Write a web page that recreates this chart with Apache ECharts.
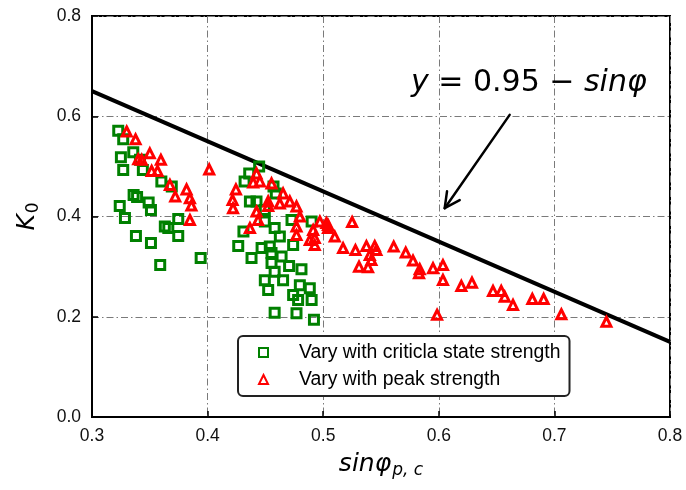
<!DOCTYPE html>
<html>
<head>
<meta charset="utf-8">
<script src="https://cdn.jsdelivr.net/npm/echarts@6/dist/echarts.min.js"></script>
<style>
  html, body { margin: 0; padding: 0; background: #fff; }
  #chart { width: 686px; height: 490px; }
</style>
</head>
<body>
<div id="chart"></div>
<script>
// K0 versus sin(phi) for critical-state and peak strength
const critX = [0.3227, 0.327, 0.325, 0.3357, 0.327, 0.344, 0.3415, 0.360, 0.369, 0.336, 0.339, 0.324,
  0.349, 0.351, 0.3285, 0.3746, 0.363, 0.366, 0.3746, 0.338, 0.351, 0.359, 0.394,
  0.436, 0.4446, 0.432, 0.457, 0.459, 0.4366, 0.4423, 0.4495, 0.4726, 0.490, 0.4495, 0.458,
  0.431, 0.4625, 0.4265, 0.4467, 0.4538, 0.4553, 0.474, 0.438, 0.4553, 0.464, 0.4705, 0.4812,
  0.458, 0.4495, 0.4653, 0.4524, 0.4798, 0.4884, 0.474, 0.4783, 0.490, 0.458, 0.4769, 0.492];
const critY = [0.571, 0.554, 0.518, 0.528, 0.493, 0.493, 0.513, 0.470, 0.460, 0.443, 0.439, 0.421,
  0.428, 0.413, 0.397, 0.395, 0.380, 0.377, 0.361, 0.361, 0.347, 0.303, 0.317,
  0.486, 0.500, 0.470, 0.460, 0.446, 0.430, 0.430, 0.413, 0.393, 0.390, 0.390, 0.377,
  0.370, 0.360, 0.341, 0.337, 0.340, 0.327, 0.343, 0.317, 0.307, 0.320, 0.301, 0.295,
  0.290, 0.273, 0.273, 0.2535, 0.263, 0.257, 0.2435, 0.2335, 0.2335, 0.208, 0.207, 0.194];

const peakX = [0.330, 0.3377, 0.340, 0.343, 0.350, 0.3596, 0.3516, 0.3567, 0.3674, 0.372, 0.3818, 0.3847,
  0.386, 0.3847, 0.4014, 0.4423, 0.4452, 0.4394, 0.4553, 0.4245, 0.4216, 0.422, 0.4653, 0.4524,
  0.4524, 0.4625, 0.4711, 0.4769, 0.4423, 0.4437, 0.4798, 0.4366, 0.4769, 0.4769, 0.4913, 0.4971,
  0.4927, 0.4884, 0.4927, 0.5042, 0.510, 0.5028, 0.5042, 0.525, 0.5172, 0.5279, 0.5374, 0.5446,
  0.546, 0.5403, 0.5417, 0.531, 0.5388, 0.561, 0.5714, 0.5777, 0.5835, 0.5829, 0.595, 0.6036,
  0.6036, 0.5985, 0.6195, 0.6287, 0.6469, 0.654, 0.657, 0.6642, 0.6809, 0.6907, 0.706, 0.745];
const peakY = [0.5695, 0.554, 0.514, 0.513, 0.526, 0.513, 0.491, 0.491, 0.463, 0.440, 0.454, 0.4365,
  0.422, 0.393, 0.494, 0.486, 0.470, 0.468, 0.466, 0.454, 0.433, 0.4165, 0.446, 0.430,
  0.421, 0.426, 0.430, 0.420, 0.410, 0.393, 0.400, 0.377, 0.380, 0.363, 0.373, 0.390,
  0.357, 0.353, 0.343, 0.383, 0.360, 0.387, 0.377, 0.389, 0.337, 0.333, 0.341, 0.341,
  0.333, 0.323, 0.313, 0.300, 0.299, 0.340, 0.328, 0.312, 0.295, 0.287, 0.297, 0.303,
  0.2735, 0.204, 0.2615, 0.268, 0.2515, 0.2515, 0.240, 0.2236, 0.2355, 0.2355, 0.205, 0.190];

// Reference line y = 0.95 - sin(phi), evaluated at its two ends
const lineX = [0.3, 0.8];
const lineY = lineX.map(v => 0.95 - v);

// Annotation arrow: [fromX, fromY, toX, toY]
const arrow = [0.6613, 0.6028, 0.6051, 0.4166];

const xTicks = { min: 0.3, max: 0.8, step: 0.1 };
const yTicks = { min: 0.0, max: 0.8, step: 0.2 };

const zip = (a, b) => a.map((v, i) => [v, b[i]]);

const gridDash = { color: '#7a7a7a', width: 1, type: [7, 3, 1.5, 3] };
const tickFont = { color: '#111', fontSize: 17.5, fontFamily: 'Liberation Sans, Arial, sans-serif' };

const chart = echarts.init(document.getElementById('chart'), null, { renderer: 'canvas' });

chart.setOption({
  animation: false,
  backgroundColor: '#fff',
  grid: { left: 92, right: 16, top: 16, bottom: 73, show: true, borderColor: '#000', borderWidth: 2, backgroundColor: 'transparent' },
  xAxis: {
    type: 'value', min: xTicks.min, max: xTicks.max, interval: xTicks.step,
    name: '{a|sinφ}{b|p, c}', nameLocation: 'middle', nameGap: 32,
    nameTextStyle: {
      rich: {
        a: { fontSize: 25, fontStyle: 'italic', fontFamily: 'DejaVu Sans', color: '#000', lineHeight: 30 },
        b: { fontSize: 17, fontStyle: 'italic', fontFamily: 'DejaVu Sans', color: '#000', lineHeight: 14, verticalAlign: 'bottom', padding: [12, 0, 0, 1] }
      }
    },
    axisLine: { show: true, lineStyle: { color: '#000', width: 2 } },
    axisTick: { show: true, inside: true, length: 6, lineStyle: { color: '#000', width: 1.5 } },
    axisLabel: Object.assign({ margin: 10, formatter: v => v.toFixed(1) }, tickFont),
    splitLine: { show: true, lineStyle: gridDash }
  },
  yAxis: {
    type: 'value', min: yTicks.min, max: yTicks.max, interval: yTicks.step,
    name: '{a|K}{b|0}', nameLocation: 'middle', nameGap: 50,
    nameTextStyle: {
      rich: {
        a: { fontSize: 25, fontStyle: 'italic', fontFamily: 'DejaVu Sans', color: '#000', lineHeight: 30 },
        b: { fontSize: 17, fontFamily: 'DejaVu Sans', color: '#000', lineHeight: 14, verticalAlign: 'bottom', padding: [12, 0, 0, 1] }
      }
    },
    axisLine: { show: true, lineStyle: { color: '#000', width: 2 } },
    axisTick: { show: true, inside: true, length: 6, lineStyle: { color: '#000', width: 1.5 } },
    axisLabel: Object.assign({ margin: 11, formatter: v => v.toFixed(1) }, tickFont),
    splitLine: { show: true, lineStyle: gridDash }
  },
  legend: {
    orient: 'vertical', left: 238, top: 336,
    data: ['Vary with criticla state strength', 'Vary with peak strength'],
    backgroundColor: '#fff', borderColor: '#222', borderWidth: 2, borderRadius: 5,
    padding: [7, 9, 7, 20], itemGap: 8, itemWidth: 9, itemHeight: 9,
    textStyle: { fontSize: 19.4, color: '#000', fontFamily: 'Liberation Sans, Arial, sans-serif', padding: [0, 0, 0, 26] }
  },
  graphic: [{
    type: 'text', left: 411, top: 68, z: 100,
    style: {
      text: '{i|y}{n| = 0.95 − }{i|sinφ}',
      rich: {
        i: { fontSize: 30, fontStyle: 'italic', fontFamily: 'DejaVu Sans', fill: '#000' },
        n: { fontSize: 30, fontFamily: 'DejaVu Sans', fill: '#000' }
      }
    }
  }],
  series: [
    {
      name: 'y = 0.95 - sinφ', type: 'line', data: zip(lineX, lineY), symbol: 'none',
      lineStyle: { color: '#000', width: 4 }, z: 2, silent: true
    },
    {
      name: 'Vary with criticla state strength', type: 'scatter', data: zip(critX, critY),
      symbol: 'rect', symbolSize: 9, z: 3,
      itemStyle: { color: 'rgba(0,0,0,0)', borderColor: '#008000', borderWidth: 3, opacity: 1 }
    },
    {
      name: 'Vary with peak strength', type: 'scatter', data: zip(peakX, peakY),
      symbol: 'triangle', symbolSize: 9, z: 4,
      itemStyle: { color: 'rgba(0,0,0,0)', borderColor: '#ff0000', borderWidth: 3, opacity: 1 }
    },
    {
      type: 'custom', data: [arrow], z: 5, clip: false, silent: true,
      renderItem: (params, api) => {
        const p0 = api.coord([api.value(0), api.value(1)]);
        const p1 = api.coord([api.value(2), api.value(3)]);
        const ang = Math.atan2(p0[1] - p1[1], p0[0] - p1[0]);
        const len = 17, spread = 27 * Math.PI / 180;
        const a1 = [p1[0] + len * Math.cos(ang + spread), p1[1] + len * Math.sin(ang + spread)];
        const a2 = [p1[0] + len * Math.cos(ang - spread), p1[1] + len * Math.sin(ang - spread)];
        const st = { stroke: '#000', lineWidth: 2.5, fill: null, lineCap: 'round', lineJoin: 'round' };
        return {
          type: 'group',
          children: [
            { type: 'line', shape: { x1: p0[0], y1: p0[1], x2: p1[0], y2: p1[1] }, style: st },
            { type: 'polyline', shape: { points: [a1, p1, a2] }, style: st }
          ]
        };
      }
    }
  ]
});
</script>
</body>
</html>
